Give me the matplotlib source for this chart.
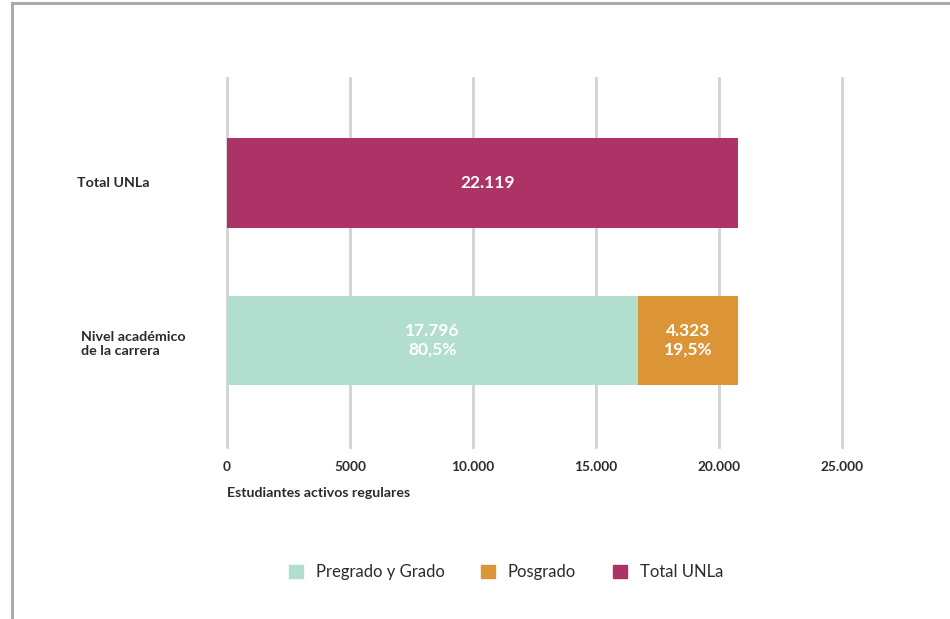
import matplotlib.pyplot as plt
from matplotlib.patches import Patch
from matplotlib.lines import Line2D

plt.rcParams['font.family'] = ['Lato', 'DejaVu Sans']

# categories (bottom to top)
categories = ['Nivel académico\nde la carrera', 'Total UNLa']

# bar lengths as drawn in the picture
pregrado = [16700, 0]
posgrado = [4070, 0]
total = [0, 20770]

# printed labels
pregrado_lbl = '17.796\n80,5%'
posgrado_lbl = '4.323\n19,5%'
total_lbl = '22.119'

xticks = [0, 5000, 10000, 15000, 20000, 25000]
xtick_labels = ['0', '5000', '10.000', '15.000', '20.000', '25.000']

c_pre = '#b2ded0'
c_pos = '#dc9536'
c_tot = '#ad3367'
txt = '#2b2b2b'

W, H = 950, 619
fig = plt.figure(figsize=(W / 100, H / 100), dpi=100)
fig.patch.set_facecolor('white')

# outer frame lines (top and left)
fig.add_artist(Line2D([12 / W, 1], [1 - 3 / H, 1 - 3 / H], color='#ababab', lw=2.2))
fig.add_artist(Line2D([12 / W, 12 / W], [0, 1 - 3 / H], color='#ababab', lw=2.2))

ax = fig.add_axes([227 / W, 1 - 447 / H, (842 - 227) / W, (447 - 78) / H])
ypos = [0, 1]
ax.barh(ypos, pregrado, height=0.57, color=c_pre, zorder=3)
ax.barh(ypos, posgrado, left=pregrado, height=0.57, color=c_pos, zorder=3)
ax.barh(ypos, total, height=0.57, color=c_tot, zorder=3)

ax.text(pregrado[0] / 2, ypos[0], pregrado_lbl, ha='center', va='center', color='white',
        fontsize=12.5, fontweight='bold', linespacing=1.2, zorder=4)
ax.text(pregrado[0] + posgrado[0] / 2, ypos[0], posgrado_lbl, ha='center', va='center',
        color='white', fontsize=12.5, fontweight='bold', linespacing=1.2, zorder=4)
ax.text(total[1] / 2 + 200, ypos[1], total_lbl, ha='center', va='center', color='white',
        fontsize=12.5, fontweight='bold', zorder=4)

ax.set_xlim(0, 25000)
ax.set_ylim(-0.676, 1.667)
for x in xticks:
    ax.axvline(x, color='#d3d3d3', lw=2, zorder=1, clip_on=False)
ax.set_xticks(xticks)
ax.set_xticklabels(xtick_labels, fontsize=9.8, fontweight='bold', color=txt)
ax.tick_params(axis='x', length=0, pad=10)
ax.set_yticks([])
for s in ax.spines.values():
    s.set_visible(False)

# category labels, left aligned
fig.text(77 / W, 1 - 183 / H, categories[1], ha='left', va='center', fontsize=10.3,
         fontweight='bold', color=txt)
fig.text(81 / W, 1 - 344 / H, categories[0], ha='left', va='center', fontsize=10.3,
         fontweight='bold', color=txt, linespacing=1.25)

fig.text(227 / W, 1 - 493 / H, 'Estudiantes activos regulares', ha='left', va='center',
         fontsize=10.2, fontweight='bold', color=txt)

handles = [Patch(color=c_pre, label='Pregrado y Grado'),
           Patch(color=c_pos, label='Posgrado'),
           Patch(color=c_tot, label='Total UNLa')]
fig.legend(handles=handles, loc='center', bbox_to_anchor=(506 / W, 1 - 572 / H), ncol=3,
           frameon=False, fontsize=12, handlelength=0.85, handleheight=0.85,
           handletextpad=0.75, columnspacing=2.2, labelcolor=txt)

fig.savefig('out.png', dpi=100, facecolor='white')
